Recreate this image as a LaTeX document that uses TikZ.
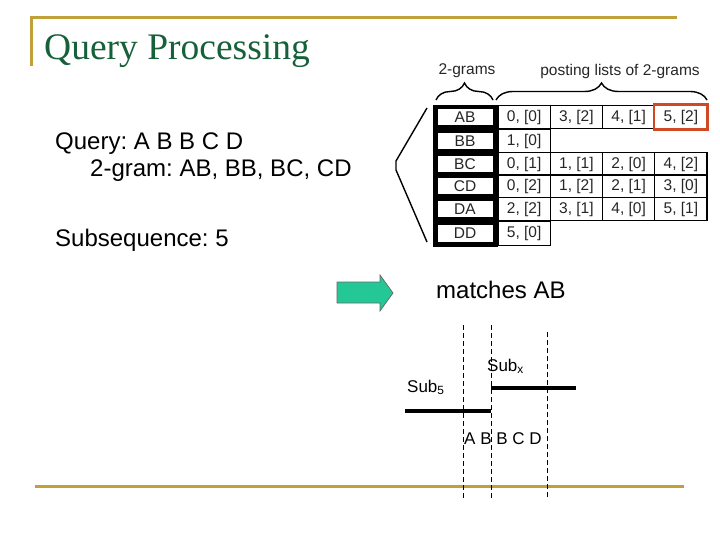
\documentclass[tikz,border=0pt]{standalone}
\usepackage{fontspec}
\setmainfont{Liberation Sans}
\newfontfamily\titlefont{Liberation Serif}
\usetikzlibrary{decorations.pathreplacing}
\definecolor{gold}{RGB}{192,160,56}
\definecolor{titlegreen}{RGB}{22,96,58}
\definecolor{hitred}{RGB}{208,72,36}
\definecolor{arrowgreen}{RGB}{36,200,150}
\def\cellfont{\fontsize{15.5}{15.5}\selectfont}
\def\bodyfont{\fontsize{24}{24}\selectfont}
\def\subfont{\fontsize{17}{17}\selectfont}
\frenchspacing
\tikzset{
  gram/.style={fill=white, minimum width=55, minimum height=16, inner sep=0, font=\cellfont, text=black!85},
  post/.style={draw, line width=1.3pt, minimum width=52.25, minimum height=23.5, inner sep=0, font=\cellfont, text=black!85},
  hit/.style={draw=hitred, line width=2.6pt},
  head/.style={font=\cellfont, text=black!85, inner sep=0},
  body/.style={font=\bodyfont, inner sep=0, anchor=base west},
  sub/.style={font=\subfont, inner sep=0, anchor=base west},
  brace/.style={decorate, decoration={brace, amplitude=17pt}, line width=1.4pt},
  guide/.style={dash pattern=on 5pt off 3pt, line width=0.9pt},
  bar/.style={line width=3.2pt},
  rule/.style={draw=gold, line width=3pt}
}
\begin{document}
\begin{tikzpicture}[x=1pt, y=-1pt]
    \useasboundingbox (0,0) rectangle (720,540);
    % title bar
    \draw[rule] (31,66) -- (31,18) -- (677,18);
    \node[font=\titlefont\fontsize{37.5}{37.5}\selectfont, text=titlegreen, inner sep=0, anchor=base west] (title) at (44,60) {Query Processing};
    \draw[rule] (35,486) -- (684,486);
    % query text
    \node[body] (query) at (55,150) {Query: A B B C D};
    \node[body] (grams2) at (90,177) {2-gram: AB, BB, BC, CD};
    \node[body] (subseq) at (55,246) {Subsequence: 5};
    % 2-gram index
    \fill (433,105) rectangle (498,246.5);
    \foreach \r/\t/\y/\list in {ab/AB/117/{{0, [0]},{3, [2]},{4, [1]},{5, [2]}},
                                bb/BB/141/{{1, [0]}},
                                bc/BC/164/{{0, [1]},{1, [1]},{2, [0]},{4, [2]}},
                                cd/CD/186/{{0, [2]},{1, [2]},{2, [1]},{3, [0]}},
                                da/DA/209/{{2, [2]},{3, [1]},{4, [0]},{5, [1]}},
                                dd/DD/233.5/{{5, [0]}}}{
      \node[gram] (\r) at (465,\y) {\t};
      \foreach \p [count=\c] in \list
        \node[post] (\r\c) at ({498+52.25*(\c-0.5)},\y) {\p};
    }
    \draw[hit] (ab4.north west) rectangle (ab4.south east);
    \draw[line width=1.4pt] (427,108) -- (396,161) -- (396,170) -- (427,242);
    \draw[brace] (436,100) -- (493,100);
    \draw[brace] (496,100) -- (707,100);
    \node[head] (gramlbl) at (467,71) {2-grams};
    \node[head] (postlbl) at (620,71) {posting lists of 2-grams};
    % match
    \filldraw[fill=arrowgreen, draw=black!60, line width=0.7pt] (337,282) -- (380,282) -- (380,275) -- (393,293) -- (380,311) -- (380,303) -- (337,303) -- cycle;
    \node[body] (match) at (436,298) {matches AB};
    % alignment of the subsequences
    \foreach \x/\t in {463/325, 491/325, 547/332}
      \draw[guide] (\x,\t) -- (\x,498);
    \coordinate (s5a) at (405,411);
    \coordinate (s5b) at (491,411);
    \coordinate (sxa) at (491,388);
    \coordinate (sxb) at (576,388);
    \draw[bar] (s5a) -- (s5b);
    \draw[bar] (sxa) -- (sxb);
    \node[sub] (lab5) at (407,392) {Sub\textsubscript{5}};
    \node[sub] (labx) at (487,371) {Sub\textsubscript{x}};
    \node[sub] (seq) at (464,444) {A B B C D};
\end{tikzpicture}
\end{document}
